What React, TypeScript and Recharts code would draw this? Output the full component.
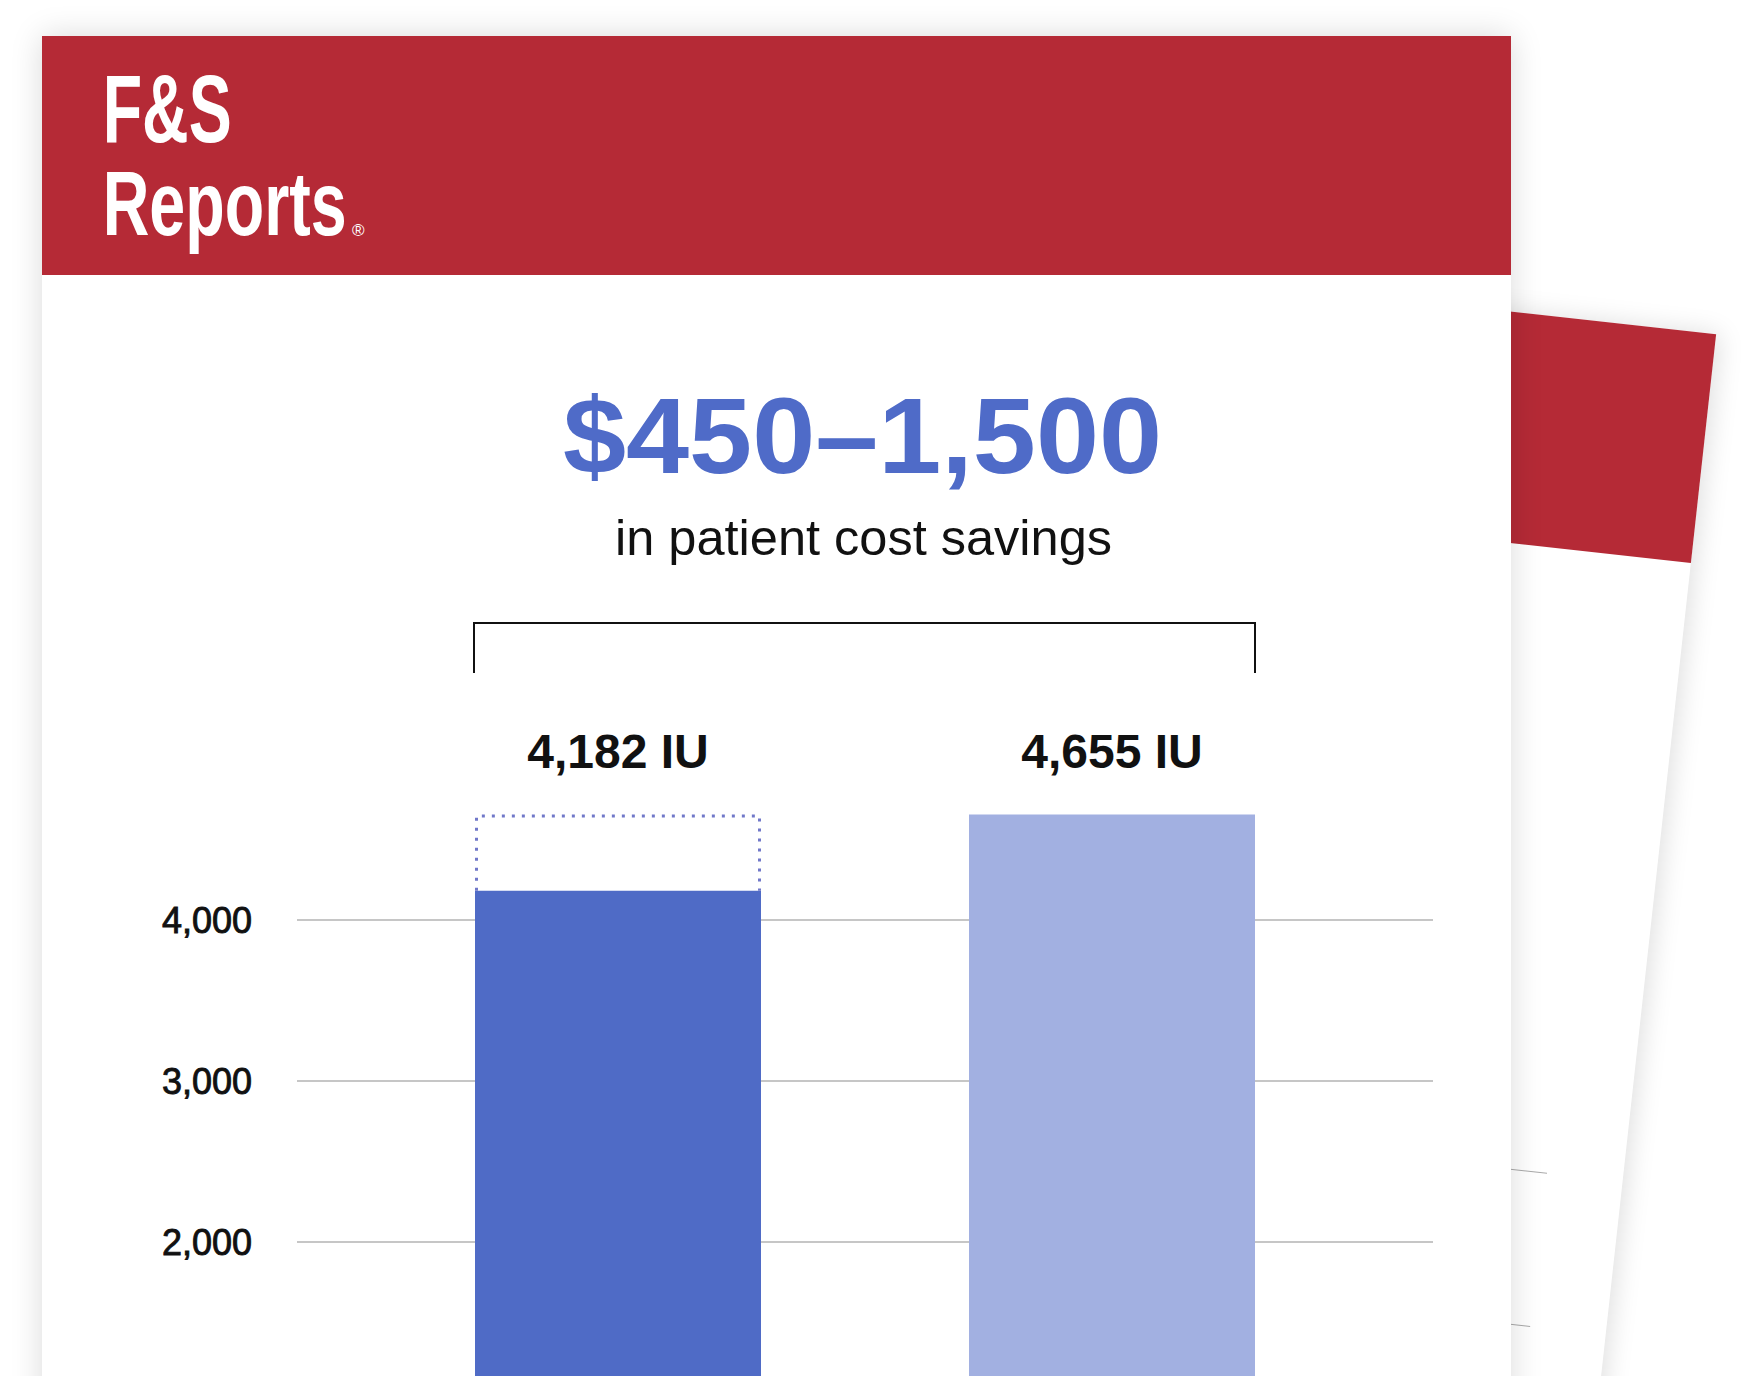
import React from "react";
import { BarChart, Bar, XAxis, YAxis, CartesianGrid, Cell, LabelList } from "recharts";

// values
const categories = ["Standard dosing", "Switched dosing"];
const doseIU = [4182, 4655];
const targetIU = [4655, 4655];
const doseLabels = ["4,182 IU", "4,655 IU"];
const barColors = ["#4f6bc6", "#a2b0e1"];
const yTicks = [2000, 3000, 4000];

const headline = "$450–1,500";
const subline = "in patient cost savings";

const chartData = categories.map((name, i) => ({
  name,
  dose: doseIU[i],
  gap: targetIU[i] - doseIU[i],
  label: doseLabels[i],
}));

const FONT = "'Liberation Sans', Arial, Helvetica, sans-serif";
const RED = "#b52a36";

// dotted outline (top + sides) for the part of the bar still missing
const DottedTop = (props: any) => {
  const { x, y, width, height } = props;
  if (!height || height <= 0) return <g />;
  const l = x + 1.5;
  const r = x + width - 1.5;
  const t = y + 1.5;
  return (
    <path
      d={`M${l},${y + height} V${t} H${r} V${y + height}`}
      fill="none"
      stroke="#7178c9"
      strokeWidth={3}
      strokeDasharray="3 7"
    />
  );
};

const BarTopLabel = (props: any) => {
  const vb = props.viewBox ?? {};
  const x = Number(vb.x ?? props.x);
  const y = Number(vb.y ?? props.y);
  const w = Number(vb.width ?? props.width);
  return (
    <text
      x={x + w / 2}
      y={y - 47}
      textAnchor="middle"
      fontFamily={FONT}
      fontWeight={700}
      fontSize={48}
      fill="#111"
    >
      {props.value}
    </text>
  );
};

export default function App() {
  return (
    <div
      style={{
        position: "absolute",
        left: 0,
        top: 0,
        width: 1758,
        height: 1376,
        overflow: "hidden",
        background: "#fff",
      }}
    >
      {/* back sheet */}
      <div
        style={{
          position: "absolute",
          left: 255,
          top: 173,
          width: 1470,
          height: 1700,
          background: "#fff",
          transform: "rotate(6.3deg)",
          transformOrigin: "0 0",
          boxShadow: "4px 0 26px rgba(0,0,0,0.13)",
        }}
      >
        <div style={{ height: 230, background: RED }} />
        <div style={{ position: "absolute", left: 1100, top: 852, width: 294, height: 1.3, background: "#aaa" }} />
        <div style={{ position: "absolute", left: 1100, top: 1006, width: 294, height: 1.3, background: "#aaa" }} />
      </div>

      {/* front sheet */}
      <div
        style={{
          position: "absolute",
          left: 42,
          top: 36,
          width: 1469,
          height: 1500,
          background: "#fff",
          boxShadow: "0 0 30px rgba(0,0,0,0.15)",
        }}
      >
        <div style={{ height: 239, background: RED }} />
      </div>

      <svg
        width={1758}
        height={1376}
        style={{ position: "absolute", left: 0, top: 0 }}
      >
        {/* condensed logo lettering */}
        <text transform="translate(102.7,141.7) scale(0.665,1)" fontFamily={FONT} fontWeight={700} fontSize={97} fill="#fff">
          F&amp;S
        </text>
        <text transform="translate(102.7,235) scale(0.71,1)" fontFamily={FONT} fontWeight={700} fontSize={91} fill="#fff">
          Reports
        </text>
        <text x={352} y={236} fontFamily={FONT} fontSize={17} fill="#fff">
          ®
        </text>

        <text x={862.5} y={472.7} textAnchor="middle" fontFamily={FONT} fontWeight={700} fontSize={107} fill="#4f6bc8" textLength={599} lengthAdjust="spacingAndGlyphs">
          {headline}
        </text>
        <text x={863.5} y={555} textAnchor="middle" fontFamily={FONT} fontSize={50} fill="#111" textLength={497} lengthAdjust="spacingAndGlyphs">
          {subline}
        </text>

        <path d="M474,673 V623 H1255 V673" fill="none" stroke="#111" strokeWidth={2} />
      </svg>

      <div style={{ position: "absolute", left: 0, top: 0 }}>
        <BarChart
          width={1758}
          height={1600}
          data={chartData}
          margin={{ top: 759, right: 325, bottom: 36, left: 97 }}
        >
          <CartesianGrid
            vertical={false}
            horizontalValues={yTicks}
            stroke="#b3b3b3"
            strokeWidth={1.3}
          />
          <XAxis dataKey="name" hide padding={{ left: 74, right: 74 }} />
          <YAxis
            type="number"
            domain={[0, 5000]}
            ticks={yTicks}
            width={200}
            axisLine={false}
            tickLine={false}
            tickSize={0}
            tickMargin={45}
            tickFormatter={(v) => Number(v).toLocaleString("en-US")}
            tick={{ fill: "#111", stroke: "#111", strokeWidth: 0.9, fontSize: 36, fontFamily: FONT }}
          />
          <Bar dataKey="dose" stackId="s" barSize={286} isAnimationActive={false}>
            {chartData.map((d, i) => (
              <Cell key={d.name} fill={barColors[i]} />
            ))}
          </Bar>
          <Bar dataKey="gap" stackId="s" barSize={286} shape={DottedTop} isAnimationActive={false}>
            <LabelList dataKey="label" content={BarTopLabel} />
          </Bar>
        </BarChart>
      </div>
    </div>
  );
}
